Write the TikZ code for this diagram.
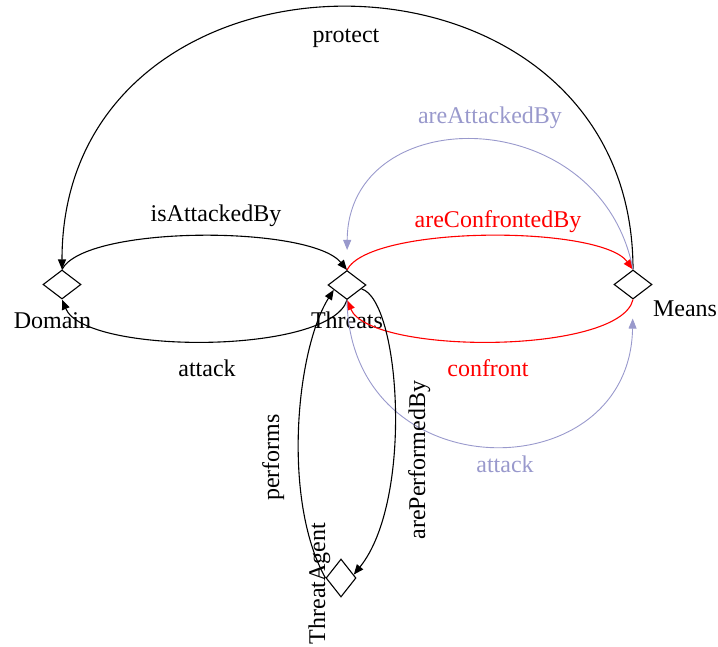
\documentclass[tikz,border=0pt]{standalone}
\usepackage{fontspec}
\setmainfont{Liberation Serif}
\usetikzlibrary{shapes.geometric,arrows.meta}
\definecolor{lav}{RGB}{153,153,204}
\begin{document}
\begin{tikzpicture}[x=1pt,y=-1pt,
  concept/.style={diamond,draw,line width=1.1pt,minimum width=38pt,minimum height=29pt,inner sep=0pt},
  lbl/.style={font=\fontsize{24}{28}\selectfont,inner sep=0pt,anchor=base},
  rel/.style={line width=1.1pt,-{Triangle[length=10pt,width=8pt]}},
  redrel/.style={rel,red},
  lavrel/.style={rel,lav,line width=0.9pt}]
\useasboundingbox (0,0) rectangle (718,646);

% concepts
\node[concept] (D) at (62,284.5) {};
\node[concept] (T) at (347,285) {};
\node[concept] (M) at (633,284.5) {};
\node[concept,minimum width=30pt,minimum height=38pt] (TA) at (341,578) {};

% concept names
\node[lbl] (Dn) at (52.5,328) {Domain};
\node[lbl] (Tn) at (347,328) {Threats};
\node[lbl] (Mn) at (685,316) {Means};
\node[lbl,rotate=90] (TAn) at (325,583.5) {ThreatAgent};

% relations
\draw[rel] (M.north) .. controls (633,-80) and (62,-80) .. (D.north);
\node[lbl] (l1) at (346,42) {protect};

\draw[rel] (D.north) .. controls (85,225) and (310,225) .. (T.north);
\node[lbl] (l2) at (216,221) {isAttackedBy};

\draw[rel] (T.south) .. controls (330,355) and (85,355) .. (D.south);
\node[lbl] (l3) at (207,376) {attack};

\draw[redrel] (T.north) .. controls (370,225) and (600,225) .. (M.north);
\node[lbl,red] (l4) at (498,227) {areConfrontedBy};

\draw[redrel] (M.south) .. controls (620,355) and (370,355) .. (T.south);
\node[lbl,red] (l5) at (488,376) {confront};

\draw[lavrel,shorten >=20pt] (M.north) .. controls (600,100) and (348,100) .. (T.north);
\node[lbl,lav] (l6) at (490,123) {areAttackedBy};

\draw[lavrel,shorten >=19pt] (T.south) .. controls (350,492) and (630,492) .. (M.south);
\node[lbl,lav] (l7) at (505,472) {attack};

\draw[rel] (TA.west) .. controls (282,500) and (296,350) .. (T.200);
\node[lbl,rotate=90] (l8) at (279,457.5) {performs};

\draw[rel] (T.-15) .. controls (400,300) and (414,500) .. (TA.15);
\node[lbl,rotate=90] (l9) at (425,460) {arePerformedBy};
\end{tikzpicture}
\end{document}
